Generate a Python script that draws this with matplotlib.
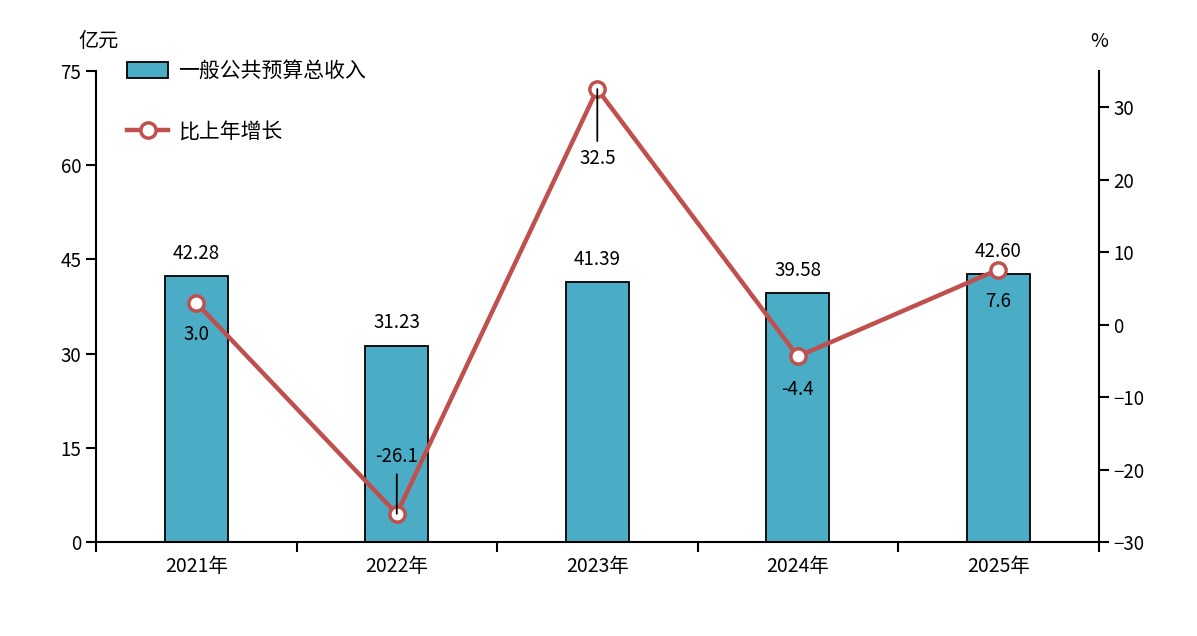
import matplotlib
matplotlib.use("Agg")
import matplotlib.pyplot as plt
import numpy as np

plt.rcParams['font.family'] = ['Noto Sans CJK SC', 'DejaVu Sans']

years = ['2021年', '2022年', '2023年', '2024年', '2025年']
revenue = [42.28, 31.23, 41.39, 39.58, 42.60]
revenue_labels = ['42.28', '31.23', '41.39', '39.58', '42.60']
growth = [3.0, -26.1, 32.5, -4.4, 7.6]
growth_labels = ['3.0', '-26.1', '32.5', '-4.4', '7.6']
# label offsets in points (negative = below), and whether a leader line is drawn
growth_offsets = [-23, 41, -50, -24, -23]
growth_leader = [False, True, True, False, False]

bar_color = '#4BACC6'
line_color = '#C0504D'

fig = plt.figure(figsize=(11.97, 6.36), dpi=100)
ax = fig.add_axes([0.0802, 0.1478, 0.8376, 0.7406])
ax2 = ax.twinx()

x = np.arange(len(years))
bars = ax.bar(x, revenue, width=0.315, color=bar_color, edgecolor='black',
              linewidth=1.3, label='一般公共预算总收入', zorder=2)
for xi, v, s in zip(x, revenue, revenue_labels):
    ax.annotate(s, xy=(xi, v), xytext=(0, 9), textcoords='offset points',
                ha='center', va='bottom', fontsize=13.5)

ln, = ax2.plot(x, growth, color=line_color, linewidth=3.2, marker='o',
               markersize=11, markerfacecolor='white', markeredgecolor=line_color,
               markeredgewidth=2.5, label='比上年增长', zorder=4)
for xi, v, s, off, lead in zip(x, growth, growth_labels, growth_offsets, growth_leader):
    if lead:
        ax2.annotate(s, xy=(xi, v), xytext=(0, off), textcoords='offset points',
                     ha='center', va='center', fontsize=13.5,
                     arrowprops=dict(arrowstyle='-', color='black', lw=1.3,
                                     shrinkA=3, shrinkB=0), zorder=5)
    else:
        ax2.annotate(s, xy=(xi, v), xytext=(0, off), textcoords='offset points',
                     ha='center', va='center', fontsize=13.5)

ax.set_xlim(-0.5, len(years) - 0.5)
ax.set_ylim(0, 75)
ax.set_yticks(np.arange(0, 76, 15))
ax2.set_ylim(-30, 35)
ax2.set_yticks(np.arange(-30, 31, 10))
ax2.set_yticklabels(['\u221230', '\u221220', '\u221210', '0', '10', '20', '30'])

ax.set_xticks(x)
ax.set_xticklabels(years, fontsize=14)
ax.set_xticks(np.arange(-0.5, len(years), 1.0), minor=True)
ax.tick_params(axis='x', which='major', length=0, pad=10)
ax.tick_params(axis='x', which='minor', length=7, width=1.5, direction='out')
ax.tick_params(axis='y', length=7, width=1.5, direction='out', labelsize=13.5)
ax2.tick_params(axis='y', length=7, width=1.5, direction='out', labelsize=13.5)

for a in (ax, ax2):
    a.spines['top'].set_visible(False)
    for sp in ('left', 'right', 'bottom'):
        a.spines[sp].set_linewidth(1.5)
ax.spines['right'].set_visible(False)
ax2.spines['left'].set_visible(False)
ax2.spines['bottom'].set_visible(False)

fig.text(0.082, 0.934, '亿元', ha='center', va='center', fontsize=14.5)
fig.text(0.918, 0.934, '%', ha='center', va='center', fontsize=14)

leg = ax.legend([bars, ln], ['一般公共预算总收入', '比上年增长'],
                loc='upper left', bbox_to_anchor=(0.012, 1.063), frameon=False,
                fontsize=15, labelspacing=1.87, handlelength=2.0, handleheight=0.85,
                handletextpad=0.45)

fig.savefig('out.png', dpi=100)
